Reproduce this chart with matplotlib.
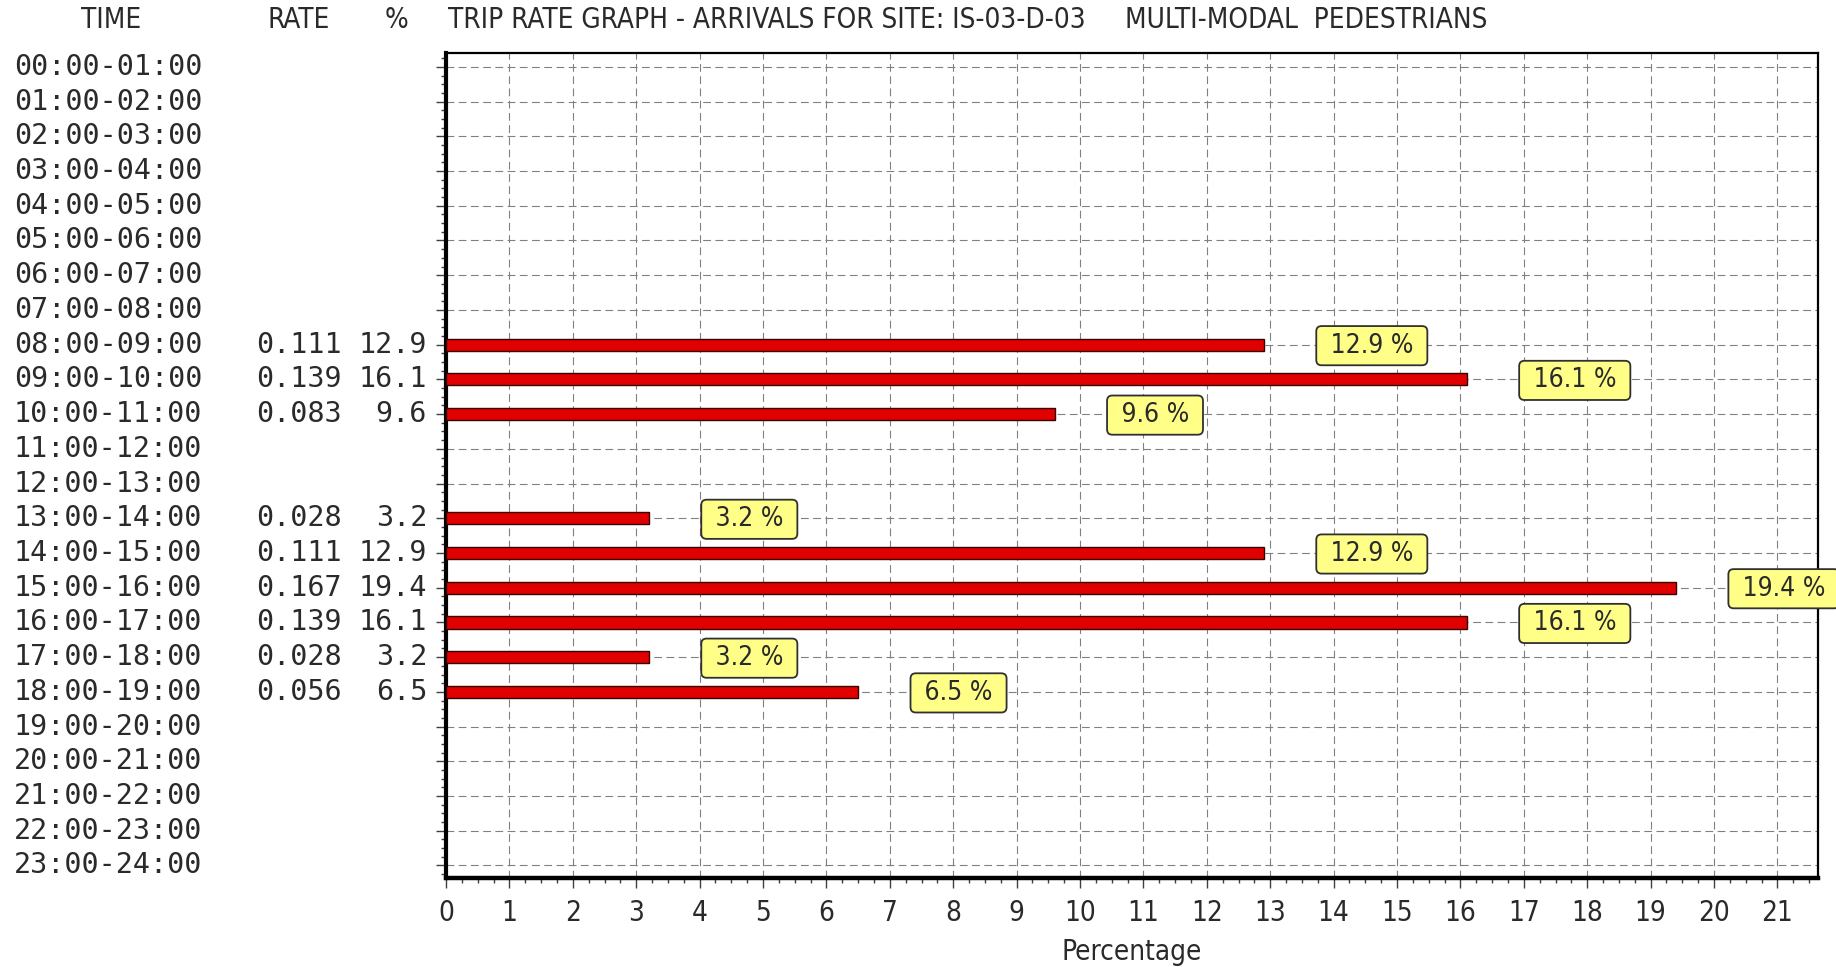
import numpy as np
import matplotlib
matplotlib.use("Agg")
import matplotlib.pyplot as plt
import matplotlib.transforms as mtransforms
from matplotlib.ticker import MultipleLocator

# hourly periods shown down the left side
periods = [f"{h:02d}:00-{h + 1:02d}:00" for h in range(24)]

# trip rate and percentage per hour (None = no data)
rates = [None] * 8 + [0.111, 0.139, 0.083, None, None, 0.028, 0.111,
                      0.167, 0.139, 0.028, 0.056] + [None] * 5
percents = [None] * 8 + [12.9, 16.1, 9.6, None, None, 3.2, 12.9,
                         19.4, 16.1, 3.2, 6.5] + [None] * 5

x_ticks = list(range(0, 22))
title = "TRIP RATE GRAPH - ARRIVALS FOR SITE: IS-03-D-03     MULTI-MODAL  PEDESTRIANS"

narrow = ["Liberation Sans Narrow", "DejaVu Sans"]
mono = ["DejaVu Sans Mono"]
txt = "#2a2a2a"
sans = dict(family=narrow, stretch="condensed", color=txt)

fig = plt.figure(figsize=(18.36, 9.67), dpi=100)
ax = fig.add_axes([446 / 1836, 1 - 878 / 967, (1818 - 446) / 1836, (878 - 53) / 967])

y = np.arange(len(periods))
vals = np.array([np.nan if p is None else p for p in percents])
has = ~np.isnan(vals)

ax.barh(y[has], vals[has], height=0.35, color="#e00000",
        edgecolor="#3a0000", linewidth=1.0, zorder=3)

# yellow value boxes to the right of each bar
for yi, v in zip(y[has], vals[has]):
    ax.annotate(f" {v:.1f} % ", xy=(v, yi), xytext=(59, -1),
                textcoords="offset pixels", ha="left", va="center",
                fontsize=19, zorder=5, **sans,
                bbox=dict(boxstyle="round,pad=0.25,rounding_size=0.2",
                          fc="#ffff88", ec="#303030", lw=1.3))

ax.set_xlim(0, 21.64)
ax.set_ylim(23.36, -0.4)
ax.set_xticks(x_ticks)
ax.set_xticklabels([str(t) for t in x_ticks], fontsize=20, **sans)
ax.set_yticks(y)
ax.set_yticklabels([])
ax.xaxis.set_minor_locator(MultipleLocator(0.25))
ax.yaxis.set_minor_locator(MultipleLocator(0.25))
ax.tick_params(which="major", length=7, width=1, color="#404040", pad=8)
ax.tick_params(which="minor", length=3.5, width=1, color="#404040")
ax.set_xlabel("Percentage", fontsize=20, labelpad=8, **sans)

ax.grid(True, which="major", color="#808080", linewidth=0.8,
        linestyle=(0, (7, 4)), zorder=0)
ax.set_axisbelow(True)

ax.spines["left"].set_linewidth(3)
ax.spines["bottom"].set_linewidth(3.2)
ax.spines["top"].set_linewidth(1.6)
ax.spines["right"].set_linewidth(1.6)

# left-hand table: time, rate, percentage
trans = mtransforms.blended_transform_factory(fig.transFigure, ax.transData)
for yi, per, r, p in zip(y, periods, rates, percents):
    ax.text(14 / 1836, yi, per, transform=trans, ha="left", va="center",
            family=mono, fontsize=20.4, color=txt, clip_on=False)
    if r is not None:
        ax.text(342 / 1836, yi, f"{r:.3f}", transform=trans, ha="right",
                va="center", family=mono, fontsize=20.4, color=txt,
                clip_on=False)
        ax.text(427 / 1836, yi, f"{p:.1f}", transform=trans, ha="right",
                va="center", family=mono, fontsize=20.4, color=txt,
                clip_on=False)

# header row
hy = 1 - 20 / 967
fig.text(111 / 1836, hy, "TIME", ha="center", va="center", fontsize=20, **sans)
fig.text(299 / 1836, hy, "RATE", ha="center", va="center", fontsize=20, **sans)
fig.text(397 / 1836, hy, "%", ha="center", va="center", fontsize=20, **sans)
fig.text(448 / 1836, hy, title, ha="left", va="center", fontsize=20, **sans)

fig.savefig("out.png", dpi=100, facecolor="white")
